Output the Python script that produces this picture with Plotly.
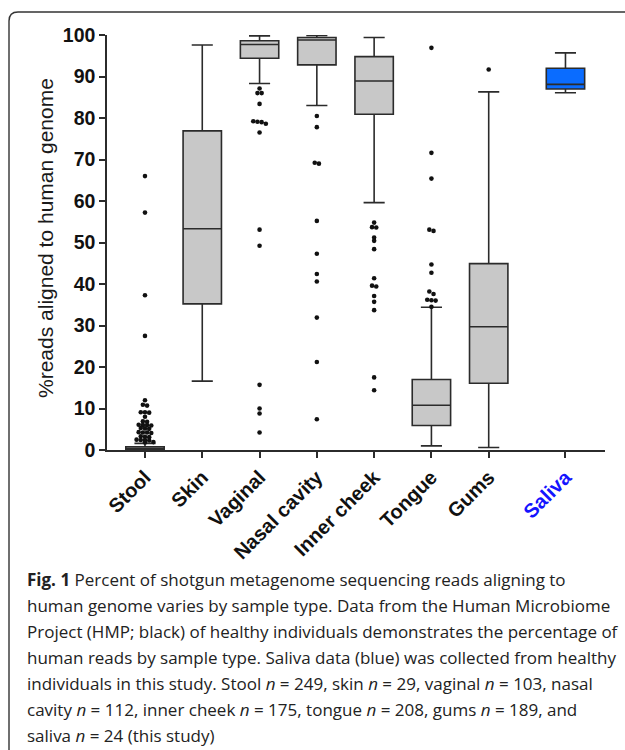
import plotly.graph_objects as go

# ---- data -------------------------------------------------------------
categories = ["Stool", "Skin", "Vaginal", "Nasal cavity", "Inner cheek", "Tongue", "Gums", "Saliva"]
positions = [0, 1, 2, 3, 4, 5, 6, 7.34]          # Saliva sits a little apart from the HMP sites

q1 = [0.1, 35.2, 94.4, 92.8, 80.9, 5.9, 16.1, 87.0]
median = [0.3, 53.3, 97.7, 98.8, 88.9, 10.8, 29.7, 88.1]
q3 = [0.8, 76.9, 98.6, 99.4, 94.8, 17.0, 44.9, 92.0]
lower_whisker = [0.0, 16.6, 88.3, 83.0, 59.6, 1.0, 0.6, 86.1]
upper_whisker = [1.6, 97.6, 99.8, 99.9, 99.4, 34.4, 86.3, 95.7]

stool_outliers = [66.0, 57.2, 37.3, 27.5, 12.0, 10.9, 10.7, 9.1, 9.1, 9.0, 8.0, 6.9, 6.8,
                  6.1, 6.0, 6.0, 5.9, 5.3, 5.2, 5.1, 4.3, 4.2, 4.2, 4.1, 3.3, 3.2, 3.1,
                  2.5, 2.4, 2.4, 2.3, 1.9, 1.8]
skin_outliers = []
vaginal_outliers = [87.1, 86.0, 86.0, 83.4, 79.2, 79.1, 79.0, 78.6, 76.5, 53.1, 49.2, 15.7, 10.0, 8.8, 4.2]
nasal_outliers = [80.5, 77.8, 69.2, 69.0, 55.2, 47.3, 42.4, 40.6, 31.9, 21.2, 7.4]
cheek_outliers = [54.8, 53.7, 53.6, 51.2, 50.4, 48.4, 41.4, 39.6, 39.4, 37.1, 35.7, 33.7, 17.5, 14.4]
tongue_outliers = [96.9, 71.6, 65.4, 53.1, 52.8, 44.7, 42.7, 38.2, 37.6, 36.2, 36.1, 36.0, 34.5]
gums_outliers = [91.7]
saliva_outliers = []
outliers = [stool_outliers, skin_outliers, vaginal_outliers, nasal_outliers,
            cheek_outliers, tongue_outliers, gums_outliers, saliva_outliers]

sample_sizes = [249, 29, 103, 112, 175, 208, 189, 24]

# ---- geometry ---------------------------------------------------------
W, H = 625, 750
ML, MR, MT, MB = 107, 20, 35, 300
PW, PH = W - ML - MR, H - MT - MB
X_RANGE = [-0.663, 8.03]
Y_RANGE = [0, 100]
PX_PER_X = PW / (X_RANGE[1] - X_RANGE[0])
PX_PER_Y = PH / (Y_RANGE[1] - Y_RANGE[0])


def px_x(px):
    return (px - ML) / PW


def px_y(py):
    return (MT + PH - py) / PH


def swarm(center, values, dot_px=4.2, row_px=2.6):
    """Spread points that share (nearly) the same height side by side."""
    vals = sorted(values, reverse=True)
    xs, ys = [], []
    i = 0
    while i < len(vals):
        row = [vals[i]]
        j = i + 1
        while j < len(vals) and (vals[i] - vals[j]) * PX_PER_Y < row_px:
            row.append(vals[j])
            j += 1
        n = len(row)
        for k, v in enumerate(row):
            xs.append(center + (k - (n - 1) / 2) * dot_px / PX_PER_X)
            ys.append(v)
        i = j
    return xs, ys


GREY = "#c8c8c8"
BLUE = "#0a6cff"
EDGE = "#2b2b2b"

fig = go.Figure()

hmp = slice(0, 7)
fig.add_trace(go.Box(
    x=positions[hmp], q1=q1[hmp], median=median[hmp], q3=q3[hmp],
    lowerfence=lower_whisker[hmp], upperfence=upper_whisker[hmp],
    boxpoints=False, width=0.67, whiskerwidth=0.55,
    fillcolor=GREY, line=dict(color=EDGE, width=1.6),
    showlegend=False, hoverinfo="skip",
))
fig.add_trace(go.Box(
    x=positions[7:], q1=q1[7:], median=median[7:], q3=q3[7:],
    lowerfence=lower_whisker[7:], upperfence=upper_whisker[7:],
    boxpoints=False, width=0.67, whiskerwidth=0.55,
    fillcolor=BLUE, line=dict(color=EDGE, width=1.6),
    showlegend=False, hoverinfo="skip",
))

ox, oy = [], []
for pos, vals in zip(positions, outliers):
    xs, ys = swarm(pos, vals)
    ox += xs
    oy += ys
fig.add_trace(go.Scatter(
    x=ox, y=oy, mode="markers",
    marker=dict(color="#111111", size=4.6, line=dict(width=0)),
    showlegend=False, hoverinfo="skip", cliponaxis=False,
))

tick_text = [c if c != "Saliva" else "<span style='color:#1414ff'>Saliva</span>" for c in categories]

fig.update_layout(
    width=W, height=H,
    margin=dict(l=ML, r=MR, t=MT, b=MB),
    paper_bgcolor="white", plot_bgcolor="white",
    boxmode="overlay",
    font=dict(family="Liberation Sans, Arial", color="#1a1a1a"),
    xaxis=dict(
        range=X_RANGE, tickmode="array", tickvals=positions, ticktext=tick_text,
        tickangle=-45, ticks="outside", ticklen=6, tickwidth=1.5, tickcolor=EDGE,
        showline=True, linecolor=EDGE, linewidth=1.5, showgrid=False, zeroline=False,
        tickfont=dict(size=20, weight="bold", color="#111111"),
    ),
    yaxis=dict(
        range=Y_RANGE, tickmode="array", tickvals=list(range(0, 101, 10)),
        ticks="outside", ticklen=6, tickwidth=1.5, tickcolor=EDGE,
        showline=True, linecolor=EDGE, linewidth=1.5, showgrid=False, zeroline=False,
        tickfont=dict(size=19.5, weight="bold", color="#111111"),
    ),
)

# y-axis title
fig.add_annotation(
    text="%reads aligned to human genome", textangle=-90,
    xref="paper", yref="paper", x=px_x(45), y=px_y(238),
    xanchor="center", yanchor="middle", showarrow=False,
    font=dict(family="Liberation Sans, Arial", size=21, color="#1a1a1a"),
)

# rounded frame around the figure panel
frame = (f"M {px_x(9)} {px_y(770)} L {px_x(9)} {px_y(21)} "
         f"Q {px_x(9)} {px_y(12)} {px_x(18)} {px_y(12)} L {px_x(640)} {px_y(12)}")
fig.add_shape(type="path", path=frame, xref="paper", yref="paper",
              line=dict(color="#333333", width=1.4), layer="above")

# caption
n = sample_sizes
caption = [
    "<b>Fig. 1</b> Percent of shotgun metagenome sequencing reads aligning to",
    "human genome varies by sample type. Data from the Human Microbiome",
    "Project (HMP; black) of healthy individuals demonstrates the percentage of",
    "human reads by sample type. Saliva data (blue) was collected from healthy",
    f"individuals in this study. Stool <i>n</i> = {n[0]}, skin <i>n</i> = {n[1]}, "
    f"vaginal <i>n</i> = {n[2]}, nasal",
    f"cavity <i>n</i> = {n[3]}, inner cheek <i>n</i> = {n[4]}, tongue <i>n</i> = {n[5]}, "
    f"gums <i>n</i> = {n[6]}, and",
    f"saliva <i>n</i> = {n[7]} (this study)",
]
for k, line in enumerate(caption):
    fig.add_annotation(
        text=line, xref="paper", yref="paper",
        x=px_x(25), y=px_y(579 + 26 * k), xanchor="left", yanchor="middle",
        showarrow=False, font=dict(family="Open Sans", size=17, color="#222222"),
    )

fig.write_html("out.html")
